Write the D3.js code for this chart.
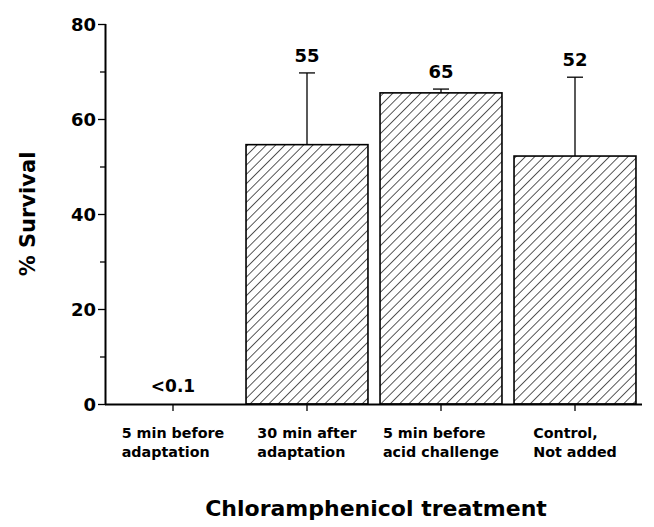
<!DOCTYPE html>
<html><head><meta charset="utf-8">
<script src="https://cdn.jsdelivr.net/npm/d3@7"></script>
<style>body{margin:0;background:#fff}svg{display:block}text{font-family:"DejaVu Sans",sans-serif;fill:#000}</style>
</head><body>
<script>
const categories = [["5 min before","adaptation"],["30 min after","adaptation"],["5 min before","acid challenge"],["Control,","Not added"]];
const values = [0, 54.6, 65.5, 52.2];
const errorTop = [null, 69.7, 66.3, 68.8];
const valueLabels = ["<0.1","55","65","52"];
const yTicks = [0,20,40,60,80];
const yMinorTicks = [10,30,50,70];

const W=654,H=527;
const svg=d3.select("body").append("svg").attr("width",W).attr("height",H);
const defs=svg.append("defs");
const pat=defs.append("pattern").attr("id","hatch").attr("patternUnits","userSpaceOnUse")
  .attr("width",6.6).attr("height",6.6).attr("patternTransform","rotate(45)");
pat.append("line").attr("x1",0).attr("y1",-1).attr("x2",0).attr("y2",8).attr("stroke","#000").attr("stroke-width",1.3);

const x=d3.scaleBand().domain(d3.range(categories.length)).range([106,642]).paddingInner(0.09).paddingOuter(0.045);
const y=d3.scaleLinear().domain([0,80]).range([404,24]);

// bars
values.forEach((d,i)=>{
  if(!(d>0)) return;
  svg.append("rect").attr("class","bar")
    .attr("x",x(i)).attr("y",y(d)).attr("width",x.bandwidth()).attr("height",y(0)-y(d))
    .attr("fill","url(#hatch)").attr("stroke","#000").attr("stroke-width",1.6);
});

// error bars
errorTop.forEach((e,i)=>{
  if(e==null) return;
  const cx=x(i)+x.bandwidth()/2;
  svg.append("line").attr("x1",cx).attr("x2",cx).attr("y1",y(values[i])).attr("y2",y(e)).attr("stroke","#000").attr("stroke-width",1.3);
  svg.append("line").attr("x1",cx-8).attr("x2",cx+8).attr("y1",y(e)).attr("y2",y(e)).attr("stroke","#000").attr("stroke-width",1.3);
});

// value labels
valueLabels.forEach((t,i)=>{
  const cx=x(i)+x.bandwidth()/2;
  const top = errorTop[i]!=null ? y(errorTop[i]) - 11 : y(values[i]) - 12;
  svg.append("text").attr("x",cx).attr("y",top).attr("text-anchor","middle")
    .attr("font-size",i===0?17:18).attr("font-weight","bold").text(t);
});

// y axis
const yAxis=d3.axisLeft(y).tickValues(yTicks).tickSize(8).tickPadding(2);
const gy=svg.append("g").attr("transform","translate(106,0)").call(yAxis);
gy.select(".domain").attr("stroke-width",2).attr("d","M-0.5,24V404");
gy.selectAll(".tick line").attr("stroke-width",1.3);
gy.selectAll(".tick text").attr("font-size",18).attr("font-weight","bold").attr("dy","0.36em");
const gyMinor=svg.append("g").attr("transform","translate(106,0)")
  .call(d3.axisLeft(y).tickValues(yMinorTicks).tickSize(6).tickFormat(""));
gyMinor.select(".domain").remove();
gyMinor.selectAll(".tick line").attr("stroke-width",1.3);

// x axis
const gx=svg.append("g").attr("transform","translate(0,404)")
  .call(d3.axisBottom(x).tickSize(7).tickFormat(""));
gx.select(".domain").attr("stroke-width",2).attr("d","M105,0.5H642");
gx.selectAll(".tick line").attr("stroke-width",1.3);

// category labels
categories.forEach((lines,i)=>{
  const cx=x(i)+x.bandwidth()/2;
  const g=svg.append("g");
  const ts=lines.map((l,k)=>g.append("text").attr("y",438+k*19).attr("font-size",14.3).attr("font-weight","bold").text(l));
  const mw=d3.max(ts,t=>t.node().getComputedTextLength());
  ts.forEach(t=>t.attr("x",cx-mw/2));
});

// titles
svg.append("text").attr("x",376).attr("y",516).attr("text-anchor","middle")
  .attr("font-size",22).attr("font-weight","bold").text("Chloramphenicol treatment");
svg.append("text").attr("transform","translate(35,214) rotate(-90)").attr("text-anchor","middle")
  .attr("font-size",21).attr("font-weight","bold").text("% Survival");
</script>
</body></html>
